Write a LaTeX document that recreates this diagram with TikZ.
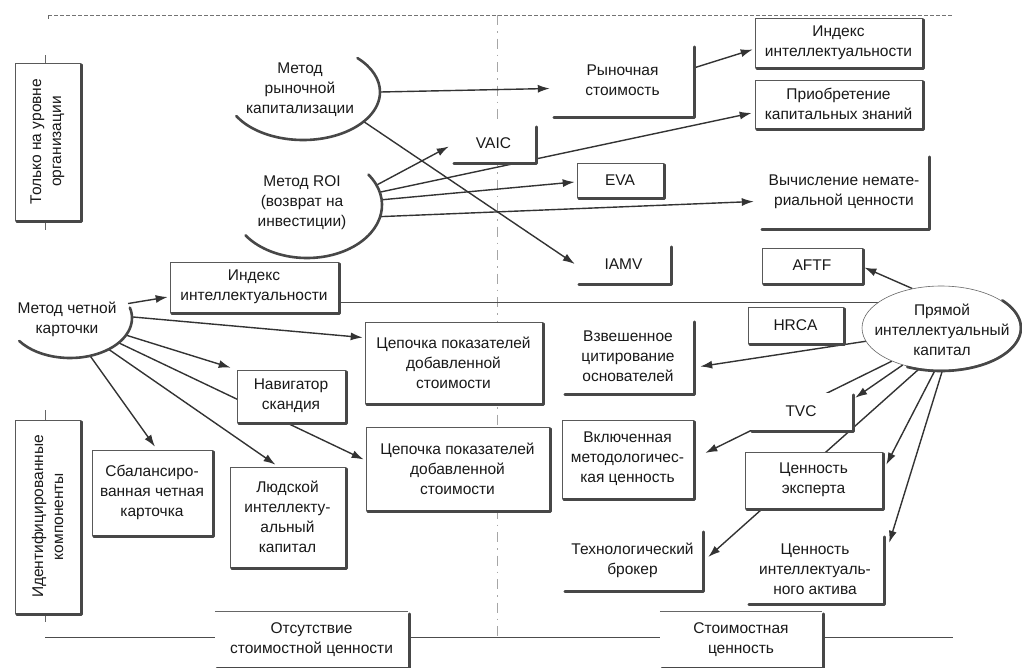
\documentclass[tikz,border=0pt]{standalone}
\usepackage{fontspec}
\setmainfont{Liberation Sans}
\usetikzlibrary{shapes.geometric,arrows.meta,calc}
\pgfdeclarelayer{bg}
\pgfsetlayers{bg,main}
\tikzset{
  txt/.style={font=\fontsize{15.5}{20}\selectfont, align=center, inner sep=0pt, text=black!90},
  fbox/.style={txt, draw=black!65, line width=0.6pt, fill=white},
  pbox/.style={txt, fill=white},
  ellshape/.style={ellipse, inner sep=0pt},
  shadowline/.style={line width=2.6pt, black!72, line cap=round, line join=round},
  conn/.style={line width=1.4pt, black!80, -{Latex[length=12pt,width=8pt]}},
  divline/.style={line width=0.7pt, black!70},
  vline/.style={line width=0.6pt, black!35, dash pattern=on 10pt off 6pt on 1.5pt off 6pt},
  topline/.style={line width=0.7pt, black!55, dash pattern=on 4pt off 2pt},
  tickline/.style={line width=0.7pt, black!60},
}
\newcommand\shd[1]{\draw[shadowline] ([xshift=1.2pt,yshift=-2pt]#1.north east) -- ([xshift=1.2pt,yshift=-1.2pt]#1.south east) -- ([xshift=2pt,yshift=-1.2pt]#1.south west);}
\begin{document}
\begin{tikzpicture}[x=1pt,y=-1pt]
\useasboundingbox (0,0) rectangle (1022,667);

% guide coordinates
\coordinate (tl) at (48,15);
\coordinate (tr) at (953,15);
\coordinate (bl) at (45,637);
\coordinate (br) at (953,637);
\coordinate (vt) at (497,15);
\coordinate (vb) at (497,637);
\coordinate (divy) at (0,302);
\coordinate (ax1) at (45,55);
\coordinate (ax2) at (45,230);
\coordinate (ax3) at (45,410);
\coordinate (ax4) at (45,622);

% ellipses
\node[ellshape, minimum width=154pt, minimum height=96pt] (mrk) at (303,92) {};
\node[txt] (mrkt) at (300,90) {Метод\\рыночной\\капитализации};
\node[ellshape, minimum width=150pt, minimum height=106pt] (roi) at (307,205) {};
\node[txt] (roit) at (302,203) {Метод ROI\\(возврат на\\инвестиции)};
\node[ellshape, minimum width=124pt, minimum height=80pt] (mck) at (70,318) {};
\node[txt] (mckt) at (67,319) {Метод четной\\карточки};
\node[ellshape, draw=black!60, line width=0.6pt, fill=white, minimum width=158pt, minimum height=84pt] (pik) at (941,328) {};
\node[txt] (pikt) at (942,330) {Прямой\\интеллектуальный\\капитал};

% boxes
\node[fbox, minimum width=167pt, minimum height=49pt] (idx1) at (838.5,42.5) {Индекс\\интеллектуальности};
\node[fbox, minimum width=167pt, minimum height=48pt] (prk) at (838.5,104) {Приобретение\\капитальных знаний};
\node[pbox, minimum width=168pt, minimum height=73pt] (vnc) at (844,191.5) {Вычисление немате-\\риальной ценности};
\node[pbox, minimum width=141pt, minimum height=71pt] (rs) at (622.5,80.5) {Рыночная\\стоимость};
\node[pbox, minimum width=83pt, minimum height=37pt] (vaic) at (493.5,143.5) {VAIC};
\node[fbox, minimum width=86pt, minimum height=34pt] (eva) at (620,180) {EVA};
\node[pbox, minimum width=93pt, minimum height=38pt] (iamv) at (623.5,264) {IAMV};
\node[fbox, minimum width=100pt, minimum height=35pt] (aftf) at (812,265.5) {AFTF};
\node[fbox, minimum width=95pt, minimum height=36pt] (hrca) at (795.5,325) {HRCA};
\node[pbox, minimum width=130pt, minimum height=73pt] (vzv) at (628,356.5) {Взвешенное\\цитирование\\основателей};
\node[fbox, minimum width=177pt, minimum height=81pt] (ch1) at (453.5,362.5) {Цепочка показателей\\добавленной\\стоимости};
\node[fbox, minimum width=168pt, minimum height=50pt] (idx2) at (254,287) {Индекс\\интеллектуальности};
\node[fbox, minimum width=108pt, minimum height=52pt] (nav) at (291,396) {Навигатор\\скандия};
\node[fbox, minimum width=183pt, minimum height=83pt] (ch2) at (457.5,468.5) {Цепочка показателей\\добавленной\\стоимости};
\node[fbox, minimum width=131pt, minimum height=78pt] (vkl) at (627.5,459) {Включенная\\методологичес-\\кая ценность};
\node[pbox, minimum width=102pt, minimum height=37pt] (tvc) at (801,411.5) {TVC};
\node[pbox, minimum width=139pt, minimum height=60pt] (tb) at (632.5,560) {Технологический\\брокер};
\node[fbox, minimum width=137pt, minimum height=56pt] (ce) at (813.5,480) {Ценность\\эксперта};
\node[pbox, minimum width=136pt, minimum height=68pt] (cia) at (815,569) {Ценность\\интеллектуаль-\\ного актива};
\node[fbox, minimum width=120pt, minimum height=85pt] (sbl) at (152,492.5) {Сбалансиро-\\ванная четная\\карточка};
\node[fbox, minimum width=115pt, minimum height=100pt] (lik) at (287.5,517) {Людской\\интеллекту-\\альный\\капитал};
\node[pbox, minimum width=193pt, minimum height=55pt] (ots) at (311.5,639.5) {Отсутствие\\стоимостной ценности};
\node[pbox, minimum width=162pt, minimum height=55pt] (stc) at (741,639.5) {Стоимостная\\ценность};
\node[fbox, minimum width=65pt, minimum height=157pt] (lab1) at (47.5,141.5) {};
\node[txt, rotate=90] (lab1t) at (47.5,141.5) {Только на уровне\\организации};
\node[fbox, minimum width=65pt, minimum height=193pt] (lab2) at (47.5,516.5) {};
\node[txt, rotate=90] (lab2t) at (47.5,516.5) {Идентифицированные\\компоненты};

% shadows
\foreach \n in {idx1,prk,vnc,rs,vaic,eva,iamv,aftf,hrca,vzv,ch1,idx2,nav,ch2,vkl,tvc,tb,ce,cia,sbl,lik,ots,stc,lab1,lab2} {\shd{\n}}
\draw[tickline] (ots.north west) -- (ots.north east);
\draw[tickline] (stc.north west) -- (stc.north east);
\draw[shadowline] ($(mrk.center)+(150:77 and 48)$) arc[start angle=150, end angle=-45, x radius=77, y radius=48];
\draw[shadowline] ($(roi.center)+(145:75 and 53)$) arc[start angle=145, end angle=-35, x radius=75, y radius=53];
\draw[shadowline] ($(mck.center)+(145:62 and 40)$) arc[start angle=145, end angle=-15, x radius=62, y radius=40];
\draw[shadowline] ($(pik.center)+(115:80 and 43)$) arc[start angle=115, end angle=-40, x radius=80, y radius=43];

\begin{pgfonlayer}{bg}
  \draw[topline] (tl) -- (tr);
  \draw[tickline] (tl) -- ++(0,4);
  \draw[divline] (bl) -- (br);
  \draw[vline] (vt) -- (vb);
  \draw[divline] (idx2.east |- divy) -- (pik.center |- divy);
  \draw[tickline] (ax1) -- (ax2);
  \draw[tickline] (ax3) -- (ax4);
  % connectors
  \draw[conn] (mrk.east) -- ($(rs.west)+(-2,8)$);
  \draw[conn] (mrk.-26) -- ($(iamv.west)+(-2,0)$);
  \draw[conn] (roi.16) -- ($(vaic.west)+(-3,3)$);
  \draw[conn] (roi.10) -- ($(prk.west)+(-3,9)$);
  \draw[conn] (roi.4) -- ($(eva.west)+(-2,2)$);
  \draw[conn] (roi.-9) -- ($(vnc.west)+(-6,10)$);
  \draw[conn] ($(rs.east)+(2,-13)$) -- ($(idx1.west)+(-2,7)$);
  \draw[conn] (mck.14) -- ($(idx2.west)+(-2,10)$);
  \draw[conn] (mck.1) -- ($(ch1.west)+(-2,-25)$);
  \draw[conn] (mck.-17) -- ($(nav.north west)+(-6,-2)$);
  \draw[conn] (mck.-27) -- ($(ch2.west)+(-2,-9)$);
  \draw[conn] (mck.-39) -- ($(lik.north)+(-12,-2)$);
  \draw[conn] (mck.-62) -- ($(sbl.north)+(3,-3)$);
  \draw[conn] (pik.126) -- ($(aftf.east)+(2,2)$);
  \draw[conn] (pik.-170) -- ($(vzv.east)+(7,10)$);
  \draw[conn] (pik.214) -- ($(vkl.east)+(12,-6)$);
  \draw[conn] (pik.224) -- ($(tvc.north east)+(3,5)$);
  \draw[conn] (pik.242) -- ($(tb.east)+(6,-3)$);
  \draw[conn] (pik.262) -- ($(ce.north east)+(4,13)$);
  \draw[conn] (pik.272) -- ($(cia.north east)+(6,8)$);
\end{pgfonlayer}
\end{tikzpicture}
\end{document}
